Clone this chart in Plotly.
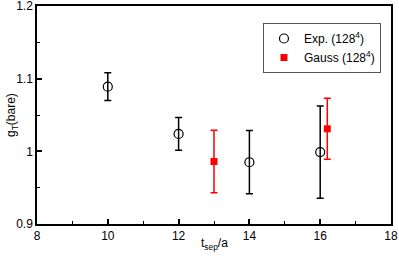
import plotly.graph_objects as go

exp_x = [10, 12, 14, 16]
exp_y = [1.089, 1.024, 0.985, 0.999]
exp_err = [0.019, 0.0225, 0.0435, 0.0635]

gauss_x = [13, 16.2]
gauss_y = [0.986, 1.031]
gauss_err = [0.043, 0.042]

FONT = "Liberation Sans, Arial"

fig = go.Figure()
fig.add_trace(go.Scatter(
    x=exp_x, y=exp_y, mode="markers", name="Exp. (128<sup>4</sup>)",
    marker=dict(symbol="circle-open", size=9, color="black", line=dict(width=1.2)),
    error_y=dict(type="data", array=exp_err, color="black", thickness=1.5, width=3.5),
))
fig.add_trace(go.Scatter(
    x=gauss_x, y=gauss_y, mode="markers", name="Gauss (128<sup>4</sup>)",
    marker=dict(symbol="square", size=7, color="red"),
    error_y=dict(type="data", array=gauss_err, color="red", thickness=1.5, width=3.5),
))

axis_common = dict(
    showline=True, linecolor="black", linewidth=1.5, mirror=True,
    ticks="inside", ticklen=5, tickwidth=1.5, tickcolor="black",
    showgrid=False, zeroline=False, automargin=False,
)

xminor = dict(ticks="inside", dtick=1, ticklen=3, tickwidth=1.2, tickcolor="black")
yminor = dict(ticks="inside", dtick=0.05, ticklen=3, tickwidth=1.2, tickcolor="black")
tickfont = dict(family=FONT, size=12, color="black")

fig.update_layout(
    xaxis=dict(range=[8, 18], dtick=2, tick0=8, minor=xminor, tickfont=tickfont,
               ticklabeloverflow="allow", **axis_common),
    yaxis=dict(range=[0.9, 1.2], dtick=0.1, tick0=0.9, tickformat="~g",
               minor=yminor, tickfont=tickfont, ticklabeloverflow="allow", **axis_common),
    xaxis2=dict(range=[8, 18], dtick=2, tick0=8, minor=xminor, overlaying="x",
                side="top", anchor="y", showticklabels=False, **axis_common),
    yaxis2=dict(range=[0.9, 1.2], dtick=0.1, tick0=0.9, minor=yminor, overlaying="y",
                side="right", anchor="x", showticklabels=False, **axis_common),
)

fig.add_annotation(text="t<sub>sep</sub>/a", xref="paper", yref="paper", x=0.5, y=0,
                   yanchor="middle", yshift=-20, showarrow=False,
                   font=dict(family=FONT, size=12, color="black"))
fig.add_annotation(text="g<sub>T</sub>(bare)", xref="paper", yref="paper", x=0, y=0.5,
                   xanchor="center", xshift=-25, textangle=-90, showarrow=False,
                   font=dict(family=FONT, size=12, color="black"))

fig.update_layout(
    width=399, height=257,
    margin=dict(l=37, r=8, t=6, b=33),
    paper_bgcolor="white", plot_bgcolor="white",
    showlegend=True,
    legend=dict(
        x=0.805, y=0.922, xanchor="center", yanchor="top",
        bordercolor="#555555", borderwidth=1, bgcolor="white",
        font=dict(family=FONT, size=12, color="black"),
        tracegroupgap=0, itemwidth=30,
    ),
)

fig.write_html("out.html", config={"displayModeBar": False},
               post_script="document.body.style.margin='0';")
